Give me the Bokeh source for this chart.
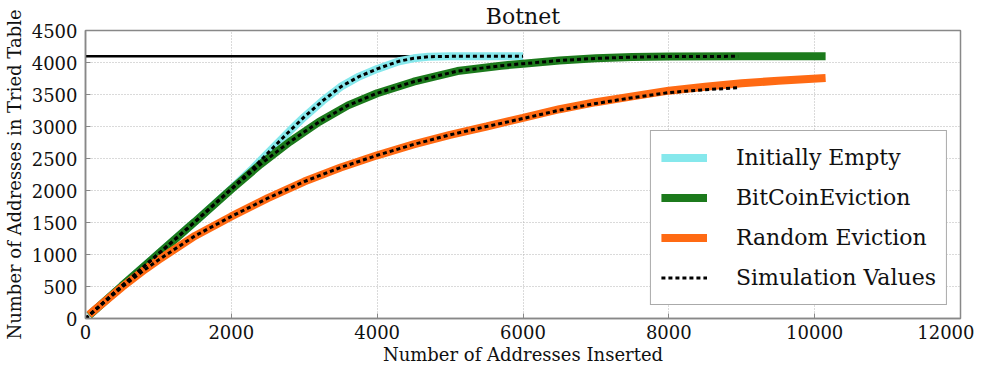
from bokeh.plotting import figure
from bokeh.models import Legend, LegendItem, Range1d, SingleIntervalTicker
from bokeh.embed import file_html
from bokeh.resources import INLINE

# ---- data ----
empty_x = [50, 500, 1000, 1500, 2000, 2300, 2600, 2800, 3000, 3250, 3500, 3750, 4000, 4300, 4500, 4700, 5000, 6000]
empty_y = [50, 510, 1010, 1510, 2025, 2350, 2700, 2930, 3150, 3400, 3620, 3780, 3900, 4020, 4065, 4090, 4096, 4096]

btc_x = [50, 500, 1000, 1500, 2000, 2400, 2800, 3200, 3600, 4000, 4500, 5100, 5700, 6000, 6500, 7000, 7500, 8000, 9000, 10150]
btc_y = [50, 510, 1010, 1510, 2020, 2410, 2760, 3070, 3330, 3520, 3700, 3866, 3950, 3982, 4030, 4065, 4085, 4094, 4096, 4096]

rnd_x = [50, 500, 820, 1000, 1500, 2000, 2500, 3000, 3500, 4000, 4500, 5000, 5500, 6000, 6500, 7000, 7500, 8000, 8500, 9000, 9500, 10150]
rnd_y = [60, 490, 771, 915, 1290, 1595, 1880, 2140, 2360, 2550, 2720, 2870, 3000, 3134, 3270, 3380, 3470, 3560, 3620, 3675, 3715, 3756]

sim_empty_x = [0, 500, 1000, 1500, 2000, 2300, 2600, 2800, 3000, 3250, 3500, 3750, 4000, 4300, 4500, 4700, 5000, 6000]
sim_empty_y = [0, 510, 1010, 1510, 2025, 2350, 2700, 2930, 3150, 3400, 3620, 3780, 3900, 4020, 4065, 4090, 4096, 4096]

sim_btc_x = [0, 500, 1000, 1500, 2000, 2400, 2800, 3200, 3600, 4000, 4500, 5100, 5700, 6000, 6500, 7000, 7500, 8000, 8950]
sim_btc_y = [0, 510, 1010, 1510, 2020, 2410, 2760, 3070, 3330, 3520, 3700, 3866, 3950, 3982, 4030, 4065, 4085, 4094, 4096]

sim_rnd_x = [0, 500, 820, 1000, 1500, 2000, 2500, 3000, 3500, 4000, 4500, 5000, 5500, 6000, 6500, 7000, 7500, 8000, 8500, 8950]
sim_rnd_y = [0, 490, 771, 915, 1290, 1595, 1880, 2140, 2360, 2550, 2720, 2870, 3000, 3125, 3255, 3360, 3450, 3530, 3575, 3605]

cap_x = [0, 4700]
cap_y = [4096, 4096]

FONT = "DejaVu Serif"

p = figure(width=974, height=367,
           x_range=Range1d(0, 12000), y_range=Range1d(0, 4500),
           output_backend="svg", toolbar_location=None,
           min_border_left=79, min_border_right=14, min_border_top=0, min_border_bottom=0,
           title="Botnet")

p.title.text_font = FONT
p.title.text_font_size = "22px"
p.title.text_font_style = "normal"
p.title.align = "center"
p.title.text_color = "#111111"
p.title.standoff = 3
p.title.offset = 0

p.xaxis.ticker = SingleIntervalTicker(interval=2000)
p.yaxis.ticker = SingleIntervalTicker(interval=500)
for ax in (p.xaxis[0], p.yaxis[0]):
    ax.major_label_text_font = FONT
    ax.major_label_text_font_size = "18px"
    ax.major_label_text_color = "#111111"
    ax.axis_label_text_font = FONT
    ax.axis_label_text_font_size = "18px"
    ax.axis_label_text_font_style = "normal"
    ax.axis_label_text_color = "#111111"
    ax.axis_line_color = "#888888"
    ax.axis_line_width = 1.5
    ax.major_tick_in = 5
    ax.major_tick_out = 0
    ax.major_tick_line_color = "#888888"
    ax.minor_tick_line_color = None
    ax.major_label_standoff = 2
    ax.axis_label_standoff = 2
p.yaxis.major_label_standoff = 4
p.yaxis.axis_label_standoff = 4
p.xaxis.axis_label = "Number of Addresses Inserted"
p.yaxis.axis_label = "Number of Addresses in Tried Table"

p.outline_line_color = "#888888"
p.outline_line_width = 1.5
p.grid.grid_line_color = "#b5b5b5"
p.grid.grid_line_dash = "1 2"
p.grid.grid_line_width = 1

cap = p.line(cap_x, cap_y, line_color="black", line_width=2.5)
r_empty = p.line(empty_x, empty_y, line_color="#86e8ec", line_width=8)
r_btc = p.line(btc_x, btc_y, line_color="#1c7a1c", line_width=8)
r_rnd = p.line(rnd_x, rnd_y, line_color="#ff6a13", line_width=8)
s_empty = p.line(sim_empty_x, sim_empty_y, line_color="black", line_width=3, line_dash="4 3")
s_btc = p.line(sim_btc_x, sim_btc_y, line_color="black", line_width=3, line_dash="4 3")
s_rnd = p.line(sim_rnd_x, sim_rnd_y, line_color="black", line_width=3, line_dash="4 3")

legend = Legend(items=[
    LegendItem(label="Initially Empty", renderers=[r_empty]),
    LegendItem(label="BitCoinEviction", renderers=[r_btc]),
    LegendItem(label="Random Eviction", renderers=[r_rnd]),
    LegendItem(label="Simulation Values", renderers=[s_rnd]),
], location="bottom_right")
legend.label_text_font = FONT
legend.label_text_font_size = "22px"
legend.label_text_color = "#111111"
legend.glyph_width = 46
legend.glyph_height = 33
legend.label_height = 33
legend.spacing = 7
legend.padding = 10
legend.margin = 13
legend.label_standoff = 29
legend.border_line_color = "#555555"
legend.border_line_width = 1.5
legend.background_fill_alpha = 1.0
p.add_layout(legend)

open("out.html", "w").write(file_html(p, INLINE))
